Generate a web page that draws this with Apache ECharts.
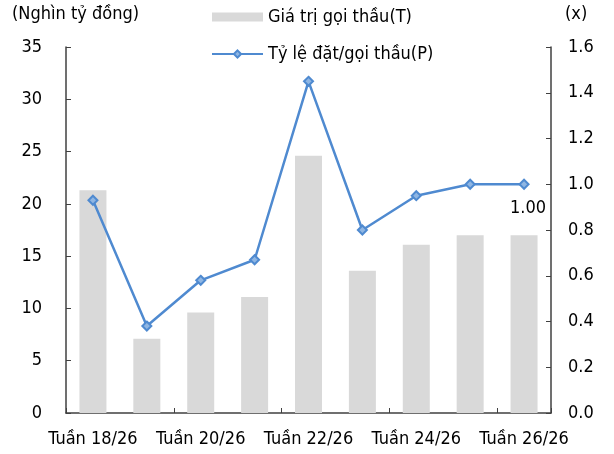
<!DOCTYPE html>
<html>
<head>
<meta charset="utf-8">
<script src="https://cdn.jsdelivr.net/npm/echarts@6/dist/echarts.min.js"></script>
<style>
html,body{margin:0;padding:0;background:#fff;}
#chart{width:614px;height:454px;}
</style>
</head>
<body>
<div id="chart"></div>
<script>
// du lieu doc tu hinh
var weeks = ['Tuần 18/26','Tuần 19/26','Tuần 20/26','Tuần 21/26','Tuần 22/26','Tuần 23/26','Tuần 24/26','Tuần 25/26','Tuần 26/26'];
var callValue = [21.3, 7.1, 9.6, 11.1, 24.6, 13.6, 16.1, 17.0, 17.0];
var bidRatio = [0.93, 0.38, 0.58, 0.67, 1.45, 0.80, 0.95, 1.00, 1.00];
var leftTicks = [0, 35, 5];
var rightTicks = [0, 1.6, 0.2];

var FONT = "'DejaVu Sans Condensed', 'DejaVu Sans', sans-serif";
var TXT = '#000';

var lineData = [];
for(var i = 0;i<bidRatio.length;i++){
	var item = {value: bidRatio[i]};
	//chi hien nhan o diem cuoi
	if(i==bidRatio.length-1){
		item.label = {
			show: true,
			position: 'bottom',
			distance: 10,
			offset: [4, 0],
			formatter: function(p){ return p.value.toFixed(2); },
			color: TXT, fontFamily: FONT, fontSize: 18
		};
	}
	lineData.push(item);
}

var mycharts = echarts.init(document.getElementById('chart'), null, {renderer: 'canvas'});
var option = {
	animation: false,
	textStyle: {fontFamily: FONT},
	grid: {left: 66, right: 63, top: 47, bottom: 41, containLabel: false},
	legend: {
		orient: 'vertical',
		left: 206,
		top: 3,
		itemWidth: 51,
		itemHeight: 9,
		itemGap: 19,
		textStyle: {color: TXT, fontFamily: FONT, fontSize: 18, padding: [0,0,0,0]},
		data: [{name: 'Giá trị gọi thầu(T)', icon: 'rect'}, 'Tỷ lệ đặt/gọi thầu(P)']
	},
	graphic: [
		{type: 'text', left: 12, top: 5, style: {text: '(Nghìn tỷ đồng)', fill: TXT, font: '18px ' + FONT}},
		{type: 'text', left: 565, top: 5, style: {text: '(x)', fill: TXT, font: '18px ' + FONT}}
	],
	xAxis: {
		type: 'category',
		data: weeks,
		axisLine: {lineStyle: {color: '#404040', width: 1.5}},
		axisTick: {show: true, inside: true, interval: 1, length: 5, lineStyle: {color: '#404040'}},
		axisLabel: {interval: 1, color: TXT, fontFamily: FONT, fontSize: 18, margin: 17},
		splitLine: {show: false}
	},
	yAxis: [{
		type: 'value',
		min: leftTicks[0], max: leftTicks[1], interval: leftTicks[2],
		axisLine: {show: true, lineStyle: {color: '#404040', width: 1.5}},
		axisTick: {show: true, inside: true, length: 5, lineStyle: {color: '#404040'}},
		axisLabel: {color: TXT, fontFamily: FONT, fontSize: 18, margin: 24},
		splitLine: {show: false}
	},{
		type: 'value',
		min: rightTicks[0], max: rightTicks[1], interval: rightTicks[2],
		axisLine: {show: true, lineStyle: {color: '#404040', width: 1.5}},
		axisTick: {show: true, inside: true, length: 5, lineStyle: {color: '#404040'}},
		axisLabel: {color: TXT, fontFamily: FONT, fontSize: 18, margin: 17,
			formatter: function(v){ return v.toFixed(1); }},
		splitLine: {show: false}
	}],
	series: [{
		name: 'Giá trị gọi thầu(T)',
		type: 'bar',
		barWidth: 27,
		itemStyle: {color: '#d9d9d9'},
		data: callValue
	},{
		name: 'Tỷ lệ đặt/gọi thầu(P)',
		type: 'line',
		yAxisIndex: 1,
		symbol: 'diamond',
		symbolSize: 9,
		lineStyle: {color: '#4f8ad0', width: 2.5},
		itemStyle: {color: '#8fb6e3', borderColor: '#4f8ad0', borderWidth: 2},
		data: lineData
	}]
};
mycharts.setOption(option);
</script>
</body>
</html>
